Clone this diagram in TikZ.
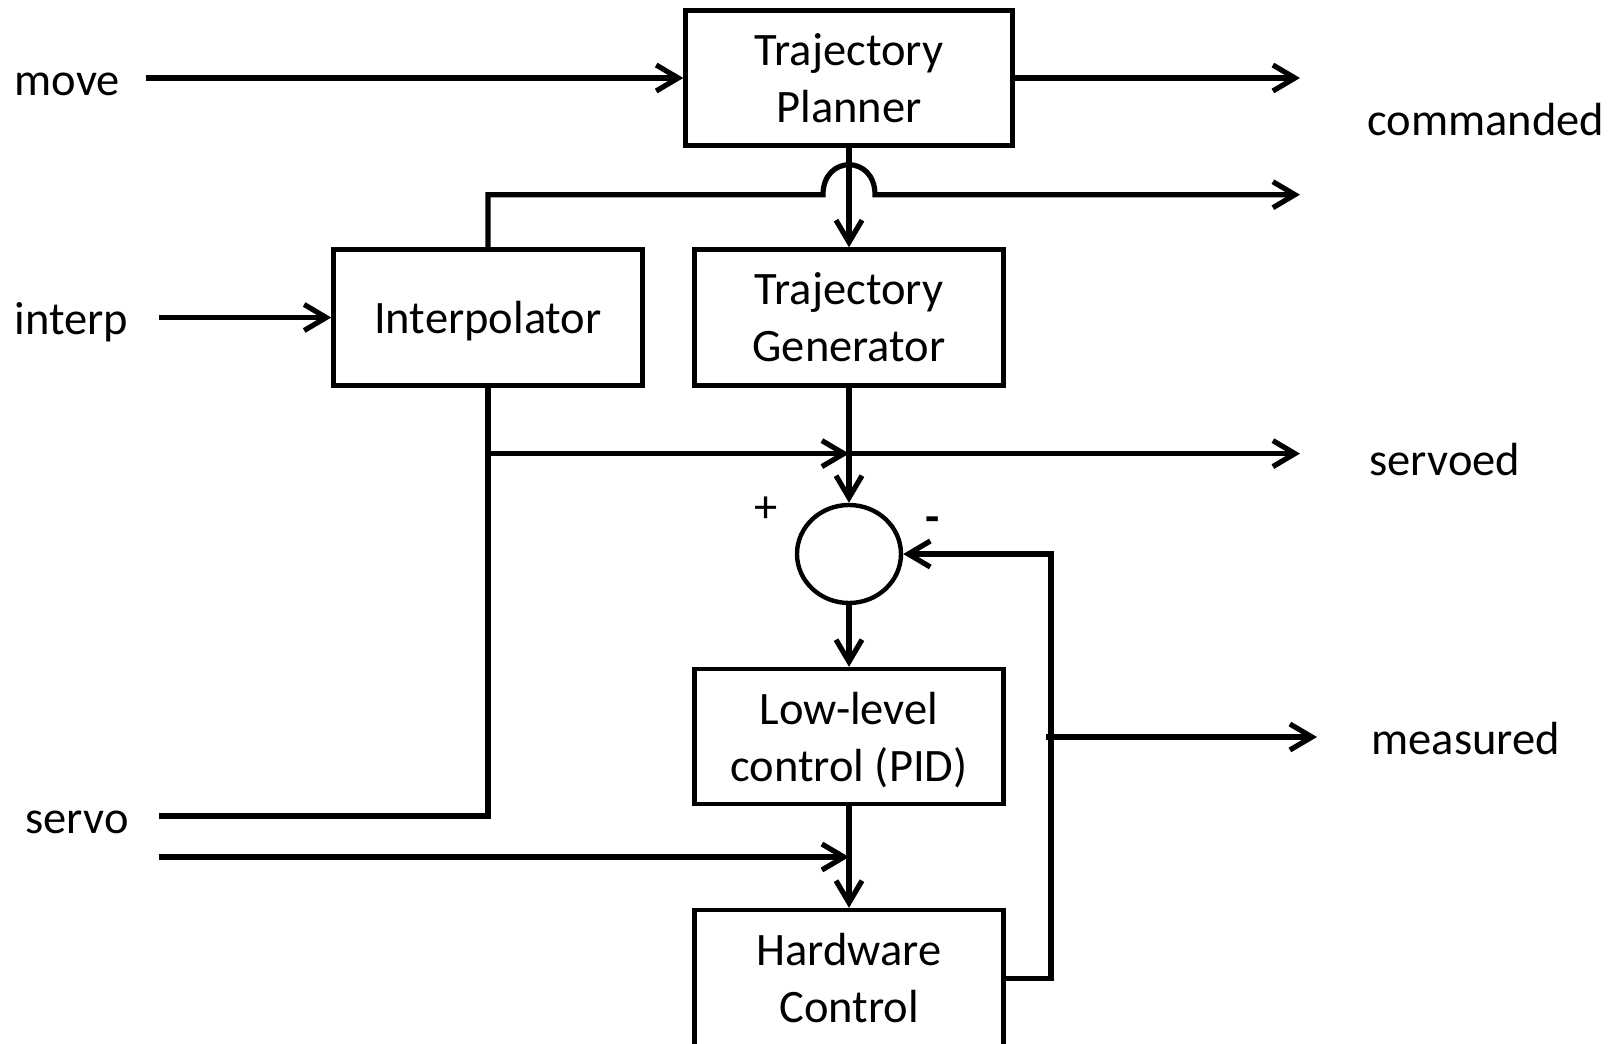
\documentclass[tikz,border=0pt]{standalone}
\usepackage{fontspec}
\setmainfont{Carlito}
\usetikzlibrary{arrows.meta,shapes.geometric}
\begin{document}
\begin{tikzpicture}[x=0.5pt,y=-0.5pt,
  line width=2.6pt,
  box/.style={draw,line width=2.2pt,align=center,inner sep=0pt},
  lbl/.style={inner sep=0pt,anchor=base west},
  arr/.style={-{Straight Barb[length=11pt,width=13pt]}},
  every node/.style={font=\fontsize{23.25pt}{28.5pt}\selectfont}]
\useasboundingbox (0,0) rectangle (1624,1044);
% boxes
\node[box,minimum width=163.5pt,minimum height=67.5pt] (tp) at (849,78) {Trajectory\\Planner};
\node[box,minimum width=154.5pt,minimum height=68pt] (ip) at (488,317.5) {\raisebox{-2pt}[\height][\depth]{Interpolator}};
\node[box,minimum width=154.5pt,minimum height=68pt] (tg) at (849,317.5) {Trajectory\\Generator};
\node[draw,line width=2.2pt,ellipse,minimum width=52pt,minimum height=49pt,inner sep=0pt] (sum) at (849,554) {};
\node[box,minimum width=154.5pt,minimum height=67.5pt] (llc) at (849,736.5) {\raisebox{-2.6pt}[\height][\depth]{\begin{tabular}{@{}c@{}}Low-level\\control (PID)\end{tabular}}};
\node[box,minimum width=154.5pt,minimum height=68.5pt] (hc) at (849,978.5) {Hardware\\Control};
% labels
\node[lbl] (move) at (12,95) {move};
\node[lbl] (interp) at (12,334) {interp};
\node[lbl] (servo) at (23,833.6) {servo};
\node[lbl] (cmd) at (1365,135) {commanded};
\node[lbl] (srvd) at (1367,475) {servoed};
\node[lbl] (meas) at (1369,754.5) {measured};
\node[inner sep=0pt] (plus) at (766,510) {+};
\node[inner sep=0pt] (minus) at (933,525) {\textbf{-}};
% coordinates
\coordinate (m0) at (146,78);
\coordinate (c1) at (1300,78);
\coordinate (i0) at (158.5,317.5);
\coordinate (a0) at (823,194.7);
\coordinate (a1) at (875,194.7);
\coordinate (a0c) at (823,154.7);
\coordinate (a1c) at (875,154.7);
\coordinate (c2) at (1300,194.7);
\coordinate (sv) at (158.5,816);
\coordinate (j2) at (488,453.6);
\coordinate (j3) at (849,453.6);
\coordinate (c3) at (1300,453.6);
\coordinate (sv2) at (158.5,857);
\coordinate (j4) at (849,857);
\coordinate (fb) at (1051,554);
\coordinate (m1) at (1046,737);
\coordinate (c4) at (1317,737);
% connectors
\draw[arr] (m0) -- (tp.west);
\draw[arr] (tp.east) -- (c1);
\draw[arr] (i0) -- (ip.west);
\draw[arr] (ip.north) |- (a0) .. controls (a0c) and (a1c) .. (a1) -- (c2);
\draw[arr] (tp.south) -- (tg.north);
\draw (ip.south) |- (sv);
\draw[arr] (j2) -- (j3);
\draw[arr] (j3) -- (c3);
\draw[arr] (tg.south) -- (sum.north);
\draw[arr] (sum.south) -- (llc.north);
\draw[arr] (llc.south) -- (hc.north);
\draw[arr] (sv2) -- (j4);
\draw[arr] (hc.east) -| (fb) -- (sum.east);
\draw[arr] (m1) -- (c4);
\end{tikzpicture}
\end{document}
